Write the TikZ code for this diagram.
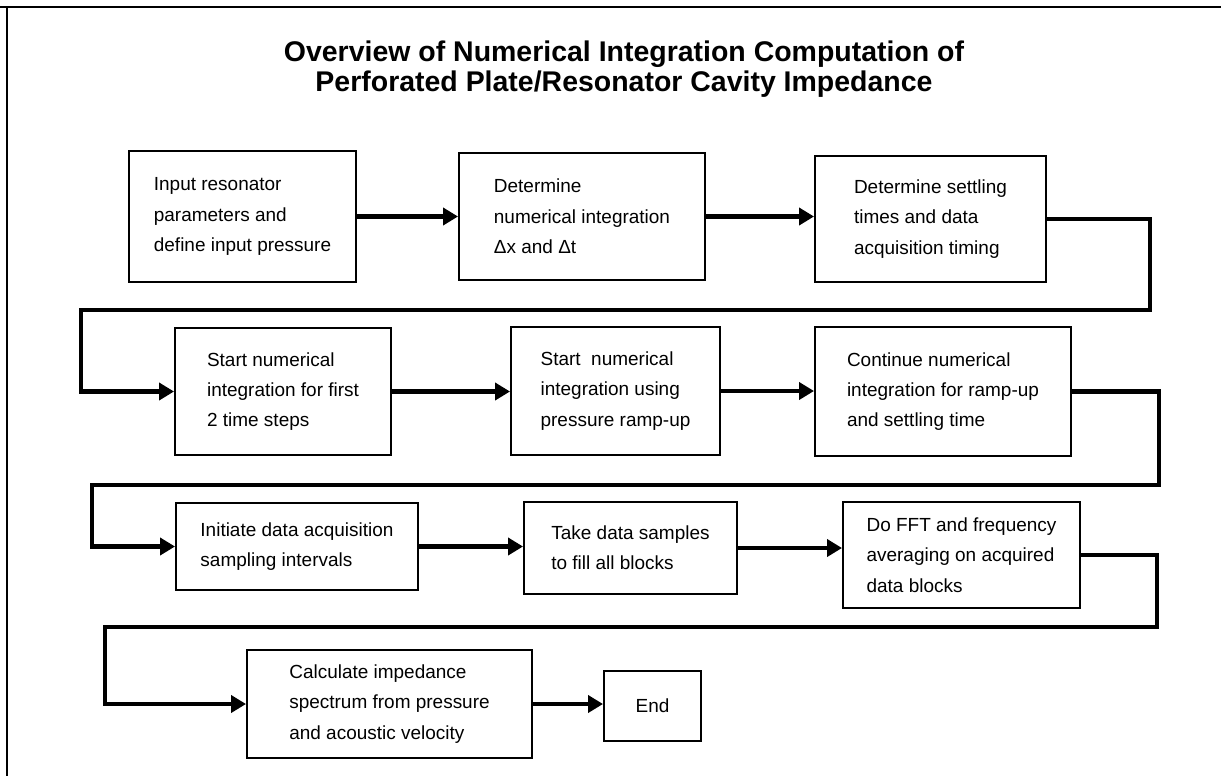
\documentclass[tikz,border=0pt]{standalone}
\usepackage{fontspec}
\setmainfont{Liberation Sans}
\usepackage{tikz}
\usetikzlibrary{arrows.meta}

\begin{document}
\begin{tikzpicture}[
        stepbox/.style={draw, line width=1.1pt, inner sep=0pt, align=left,
          font=\fontsize{10.8}{17.3}\selectfont},
        heading/.style={align=center, inner sep=0pt, font=\fontsize{16.2}{16.8}\selectfont\bfseries},
        flow/.style={-{Triangle[length=0.3cm, width=0.34cm]}, line width=2.3pt},
        frame/.style={line width=1.4pt}
      ]
      \useasboundingbox (0,0) rectangle (24.42,-15.52);
      \draw[frame] (0,-0.14) -- (24.42,-0.14);
      \draw[frame] (0.14,-0.14) -- (0.14,-15.52);

      \node[heading] (title) at (12.48,-1.38) {Overview of Numerical Integration Computation of\\Perforated Plate/Resonator Cavity Impedance};

      % first row
      \node[stepbox, minimum width=4.54cm, minimum height=2.62cm] (inp) at (4.85,-4.33)
        {Input resonator\\parameters and\\define input pressure};
      \node[stepbox, minimum width=4.92cm, minimum height=2.54cm] (grid) at (11.64,-4.33)
        {Determine\\numerical integration\\Δx and Δt};
      \node[stepbox, minimum width=4.62cm, minimum height=2.52cm] (settle) at (18.61,-4.38)
        {Determine settling\\times and data\\acquisition timing};

      % second row
      \node[stepbox, minimum width=4.32cm, minimum height=2.54cm] (first) at (5.66,-7.83)
        {Start numerical\\integration for first\\2 time steps};
      \node[stepbox, minimum width=4.18cm, minimum height=2.56cm] (ramp) at (12.31,-7.82)
        {Start~ numerical\\integration using\\pressure ramp-up};
      \node[stepbox, minimum width=5.12cm, minimum height=2.58cm] (cont) at (18.86,-7.83)
        {Continue numerical\\integration for ramp-up\\and settling time};

      % third row
      \node[stepbox, minimum width=4.84cm, minimum height=1.74cm] (acq) at (5.94,-10.93)
        {Initiate data acquisition\\sampling intervals};
      \node[stepbox, minimum width=4.26cm, minimum height=1.84cm] (fill) at (12.61,-10.96)
        {Take data samples\\to fill all blocks};
      \node[stepbox, minimum width=4.74cm, minimum height=2.12cm] (fft) at (19.23,-11.10)
        {Do FFT and frequency\\averaging on acquired\\data blocks};

      % last row
      \node[stepbox, minimum width=5.70cm, minimum height=2.16cm] (imp) at (7.79,-14.08)
        {Calculate impedance\\spectrum from pressure\\and acoustic velocity};
      \node[stepbox, minimum width=1.94cm, minimum height=1.40cm] (fin) at (13.05,-14.12) {End};

      % return paths between rows
      \coordinate (turn1) at (23.00,-6.20);
      \coordinate (back1) at (1.62,-6.20);
      \coordinate (turn2) at (23.18,-9.70);
      \coordinate (back2) at (1.84,-9.70);
      \coordinate (turn3) at (23.14,-12.54);
      \coordinate (back3) at (2.10,-12.54);

      \draw[flow] (inp.east) -- (inp.east -| grid.west);
      \draw[flow] (grid.east) -- (grid.east -| settle.west);
      \draw[flow] (settle.east) -| (turn1) -- (back1) |- (first.west);
      \draw[flow] (first.east) -- (first.east -| ramp.west);
      \draw[flow] (ramp.east) -- (ramp.east -| cont.west);
      \draw[flow] (cont.east) -| (turn2) -- (back2) |- (acq.west);
      \draw[flow] (acq.east) -- (acq.east -| fill.west);
      \draw[flow] (fill.east) -- (fill.east -| fft.west);
      \draw[flow] (fft.east) -| (turn3) -- (back3) |- (imp.west);
      \draw[flow] (imp.east) -- (imp.east -| fin.west);
    \end{tikzpicture}
\end{document}
